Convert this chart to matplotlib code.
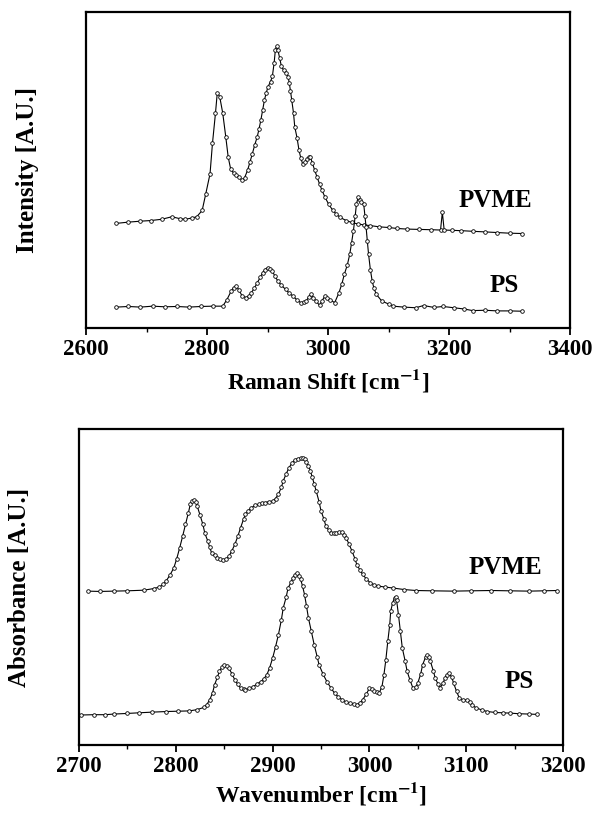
import matplotlib
matplotlib.use("Agg")
import matplotlib.pyplot as plt
from matplotlib.ticker import MultipleLocator, NullLocator

plt.rcParams['font.family'] = ['Liberation Serif', 'DejaVu Serif']
plt.rcParams['font.weight'] = 'bold'
plt.rcParams['mathtext.fontset'] = 'stix'

# Raman spectra (top panel), intensity in arbitrary units
raman_pvme_x = [2650, 2670, 2690, 2707, 2725, 2742, 2755, 2764, 2775, 2783, 2792, 2798,
                2805, 2809, 2814, 2817, 2821, 2826, 2831, 2835, 2839, 2844, 2848, 2853,
                2858, 2862, 2867, 2871, 2875, 2879, 2883, 2886, 2889, 2892, 2895, 2898,
                2901, 2905, 2908, 2911, 2913, 2915, 2917, 2920, 2923, 2927, 2931, 2934,
                2936, 2938, 2940, 2943, 2945, 2949, 2952, 2955, 2958, 2962, 2965, 2968,
                2971, 2974, 2978, 2982, 2986, 2990, 2995, 3001, 3008, 3014, 3020, 3030,
                3039, 3050, 3060, 3070, 3085, 3100, 3114, 3130, 3150, 3170, 3186, 3189,
                3192, 3205, 3220, 3239, 3260, 3280, 3300, 3320]
raman_pvme = [33.1, 33.5, 33.8, 34.0, 34.4, 35.2, 34.6, 34.4, 34.8, 35.2, 37.2, 42.5,
              48.8, 58.4, 68.0, 74.5, 73.2, 68.0, 60.5, 54.1, 50.4, 49.0, 48.3, 47.8,
              46.7, 47.5, 49.9, 52.5, 55.2, 58.0, 60.5, 63.0, 65.8, 69.0, 72.2, 74.5,
              76.4, 78.0, 79.6, 84.0, 88.0, 89.2, 88.1, 85.5, 82.8, 81.5, 80.7, 79.5,
              77.5, 75.0, 72.2, 68.0, 63.7, 60.0, 56.3, 53.8, 52.0, 52.5, 53.6, 54.0,
              54.1, 52.3, 49.9, 47.7, 45.6, 43.6, 41.4, 39.2, 37.2, 36.0, 35.0, 34.0,
              33.4, 32.9, 32.6, 32.4, 32.0, 31.8, 31.5, 31.3, 31.2, 31.1, 31.0, 36.6,
              31.0, 30.9, 30.8, 30.6, 30.4, 30.2, 30.0, 29.9]

raman_ps_x = [2650, 2670, 2690, 2710, 2730, 2750, 2770, 2790, 2810, 2826, 2833, 2840,
              2844, 2848, 2853, 2858, 2865, 2869, 2873, 2878, 2883, 2888, 2892, 2896,
              2900, 2904, 2908, 2912, 2917, 2923, 2930, 2936, 2942, 2948, 2955, 2960,
              2964, 2968, 2972, 2976, 2980, 2986, 2990, 2995, 2999, 3003, 3011, 3018,
              3023, 3027, 3032, 3036, 3039, 3042, 3045, 3047, 3050, 3053, 3055, 3059,
              3061, 3063, 3065, 3067, 3070, 3073, 3076, 3080, 3089, 3100, 3108, 3125,
              3145, 3158, 3175, 3190, 3208, 3225, 3239, 3260, 3280, 3300, 3320]
raman_ps = [6.6, 6.8, 6.6, 6.9, 6.7, 6.8, 6.6, 6.8, 6.9, 6.9, 9.0, 11.7,
            12.8, 13.3, 12.0, 10.1, 9.6, 10.2, 11.1, 12.5, 14.3, 16.0, 17.5, 18.5,
            19.1, 18.8, 18.0, 16.5, 14.9, 13.5, 12.2, 11.0, 10.1, 9.0, 8.0, 8.2,
            8.5, 9.8, 10.8, 9.6, 8.5, 7.2, 8.6, 10.1, 9.5, 9.0, 8.0, 11.1,
            14.0, 17.0, 20.0, 23.4, 27.0, 30.8, 35.5, 39.3, 41.4, 40.5, 39.8, 39.3,
            35.5, 31.8, 27.5, 23.4, 18.5, 14.9, 12.5, 10.6, 8.5, 7.6, 6.9, 6.6,
            6.4, 7.1, 6.5, 6.8, 6.4, 6.0, 5.5, 5.6, 5.4, 5.4, 5.3]

# FTIR spectra (bottom panel), absorbance in arbitrary units
ir_pvme_x = [2709, 2722, 2736, 2750, 2767, 2777, 2783, 2787, 2790, 2794, 2798, 2801,
             2804, 2807, 2810, 2813, 2815, 2817, 2819, 2821, 2822, 2825, 2828, 2830,
             2833, 2835, 2837, 2840, 2843, 2846, 2849, 2852, 2855, 2858, 2861, 2864,
             2867, 2870, 2872, 2875, 2878, 2882, 2886, 2889, 2892, 2896, 2900, 2903,
             2906, 2909, 2911, 2914, 2917, 2920, 2923, 2926, 2929, 2931, 2933, 2935,
             2937, 2939, 2941, 2943, 2945, 2948, 2950, 2953, 2955, 2958, 2960, 2963,
             2966, 2969, 2972, 2974, 2976, 2979, 2982, 2985, 2987, 2990, 2993, 2997,
             3001, 3005, 3009, 3016, 3024, 3036, 3048, 3065, 3087, 3105, 3126, 3145,
             3165, 3180, 3194]
ir_pvme = [48.7, 48.6, 48.7, 48.8, 49.0, 49.5, 50.0, 50.8, 51.9, 53.8, 56.1, 59.0,
           62.4, 66.0, 69.8, 73.5, 76.2, 77.2, 77.5, 76.8, 75.7, 72.8, 69.8, 67.0,
           64.6, 62.6, 60.8, 60.0, 59.3, 58.8, 58.4, 58.8, 59.8, 61.5, 63.5, 66.0,
           68.8, 71.5, 73.0, 74.2, 75.1, 75.8, 76.2, 76.5, 76.7, 77.0, 77.2, 78.0,
           79.4, 81.5, 83.6, 85.8, 87.8, 89.2, 90.2, 90.6, 90.8, 90.8, 90.5, 89.5,
           88.4, 86.8, 84.7, 82.6, 80.4, 77.0, 74.1, 71.5, 69.3, 68.0, 67.2, 67.0,
           67.2, 67.4, 67.4, 66.5, 65.6, 63.5, 61.4, 59.0, 57.1, 55.5, 54.0, 52.5,
           51.3, 50.7, 50.3, 50.0, 49.7, 49.2, 48.9, 48.8, 48.7, 48.8, 48.9, 48.8,
           48.7, 48.8, 48.9]

ir_ps_x = [2702, 2715, 2727, 2736, 2750, 2762, 2775, 2790, 2802, 2814, 2822, 2829,
           2832, 2835, 2838, 2840, 2843, 2845, 2848, 2850, 2853, 2855, 2858, 2861,
           2864, 2867, 2870, 2872, 2876, 2880, 2884, 2888, 2891, 2894, 2897, 2900,
           2903, 2906, 2909, 2911, 2914, 2916, 2919, 2921, 2923, 2925, 2927, 2929,
           2931, 2933, 2935, 2937, 2940, 2943, 2946, 2948, 2952, 2956, 2960, 2964,
           2968, 2972, 2976, 2980, 2984, 2987, 2990, 2993, 2997, 3000, 3003, 3005,
           3008, 3010, 3013, 3015, 3017, 3019, 3021, 3022, 3024, 3026, 3027, 3028,
           3030, 3032, 3034, 3037, 3039, 3042, 3045, 3048, 3050, 3053, 3055, 3058,
           3060, 3062, 3063, 3066, 3068, 3071, 3073, 3076, 3078, 3080, 3082, 3085,
           3087, 3090, 3093, 3097, 3101, 3104, 3106, 3110, 3116, 3122, 3130, 3138,
           3145, 3155, 3165, 3173]
ir_ps = [9.5, 9.6, 9.6, 9.8, 10.0, 10.2, 10.4, 10.6, 10.7, 10.8, 11.2, 11.9,
         12.8, 14.3, 16.5, 19.0, 21.5, 23.3, 24.8, 25.4, 25.0, 24.3, 22.5, 20.6,
         19.2, 18.0, 17.6, 17.5, 17.9, 18.5, 19.3, 20.1, 21.0, 22.2, 24.5, 27.5,
         31.0, 34.9, 39.5, 43.4, 46.8, 49.7, 51.5, 52.9, 53.9, 54.5, 53.6, 52.4,
         50.2, 47.6, 44.0, 40.2, 36.0, 31.7, 28.0, 25.4, 22.5, 20.1, 18.2, 16.4,
         15.2, 14.3, 13.6, 13.2, 12.9, 12.7, 13.3, 14.3, 16.2, 18.0, 17.6, 17.1,
         16.7, 16.4, 18.5, 22.2, 27.0, 32.8, 38.0, 42.3, 45.0, 46.6, 47.0, 46.0,
         41.3, 36.0, 30.7, 26.5, 23.3, 20.5, 18.0, 18.3, 19.6, 22.5, 25.4, 27.8,
         28.6, 27.8, 26.5, 23.5, 21.2, 19.2, 18.2, 19.5, 21.2, 22.3, 22.8, 21.5,
         19.6, 17.0, 14.8, 14.2, 14.3, 13.7, 12.7, 11.8, 11.1, 10.6, 10.3, 10.2,
         10.1, 9.9, 9.8, 9.7]

fig = plt.figure(figsize=(5.94, 8.13), dpi=100)
ax1 = fig.add_axes([0.1448, 0.5966, 0.8148, 0.3886])
ax2 = fig.add_axes([0.1330, 0.0836, 0.8148, 0.3887])

style = dict(color='black', lw=0.8, marker='o', ms=2.6, mfc='white',
             mec='black', mew=0.6)

ax1.plot(raman_pvme_x, raman_pvme, **style)
ax1.plot(raman_ps_x, raman_ps, **style)
ax1.text(3277, 40.3, 'PVME', fontsize=18, fontweight='bold', ha='center', va='center')
ax1.text(3292, 13.3, 'PS', fontsize=18, fontweight='bold', ha='center', va='center')
ax1.set_xlim(2600, 3400)
ax1.set_ylim(0, 100)
ax1.xaxis.set_major_locator(MultipleLocator(200))
ax1.xaxis.set_minor_locator(MultipleLocator(100))
ax1.set_xlabel(r'Raman Shift [cm$^{\mathbf{-1}}$]', fontsize=17, fontweight='bold')
ax1.set_ylabel('Intensity [A.U.]', fontsize=18, fontweight='bold')
ax1.xaxis.set_label_coords(0.5, -0.125)
ax1.yaxis.set_label_coords(-0.097, 0.5)

ax2.plot(ir_pvme_x, ir_pvme, **style)
ax2.plot(ir_ps_x, ir_ps, **style)
ax2.text(3140, 56.1, 'PVME', fontsize=18, fontweight='bold', ha='center', va='center')
ax2.text(3155, 20.0, 'PS', fontsize=18, fontweight='bold', ha='center', va='center')
ax2.set_xlim(2700, 3200)
ax2.set_ylim(0, 100)
ax2.xaxis.set_major_locator(MultipleLocator(100))
ax2.xaxis.set_minor_locator(MultipleLocator(50))
ax2.set_xlabel(r'Wavenumber [cm$^{\mathbf{-1}}$]', fontsize=17, fontweight='bold')
ax2.set_ylabel('Absorbance [A.U.]', fontsize=18, fontweight='bold')
ax2.xaxis.set_label_coords(0.5, -0.11)
ax2.yaxis.set_label_coords(-0.099, 0.5)

for ax in (ax1, ax2):
    ax.yaxis.set_major_locator(NullLocator())
    ax.tick_params(axis='x', which='major', direction='out', length=5, width=1.3,
                   labelsize=16.5, pad=3)
    ax.tick_params(axis='x', which='minor', direction='out', length=3, width=1.0)
    for lbl in ax.get_xticklabels():
        lbl.set_fontweight('bold')
    for sp in ax.spines.values():
        sp.set_linewidth(1.6)

fig.savefig('out.png', dpi=100)
